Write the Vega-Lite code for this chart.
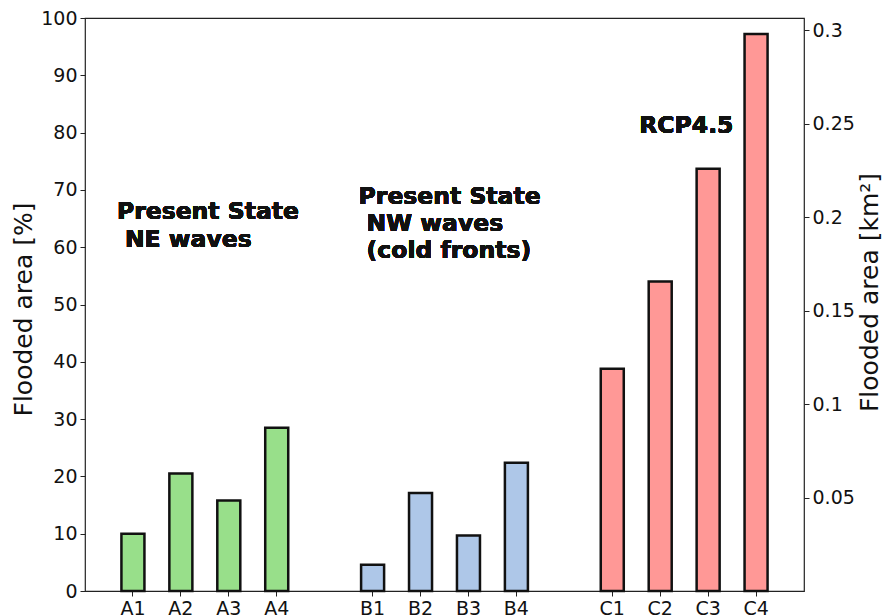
{
  "$schema": "https://vega.github.io/schema/vega-lite/v6.json",
  "width": 719,
  "height": 573,
  "autosize": "none",
  "padding": {"left": 85, "top": 18, "right": 78, "bottom": 25},
  "background": "white",
  "config": {
    "font": "DejaVu Sans",
    "view": {"stroke": "#222", "strokeWidth": 1.2},
    "axis": {"grid": false, "domainColor": "#222", "tickColor": "#222", "labelColor": "#111", "titleColor": "#111", "labelFont": "DejaVu Sans", "titleFont": "DejaVu Sans", "labelFontSize": 19, "titleFontSize": 25, "titleFontWeight": "normal", "tickSize": 5, "labelPadding": 3}
  },
  "data": {"values": [
    {"scenario": "A1", "group": "NE", "flooded": 10.0},
    {"scenario": "A2", "group": "NE", "flooded": 20.5},
    {"scenario": "A3", "group": "NE", "flooded": 15.8},
    {"scenario": "A4", "group": "NE", "flooded": 28.5},
    {"scenario": "B1", "group": "NW", "flooded": 4.6},
    {"scenario": "B2", "group": "NW", "flooded": 17.1},
    {"scenario": "B3", "group": "NW", "flooded": 9.7},
    {"scenario": "B4", "group": "NW", "flooded": 22.4},
    {"scenario": "C1", "group": "RCP", "flooded": 38.8},
    {"scenario": "C2", "group": "RCP", "flooded": 54.0},
    {"scenario": "C3", "group": "RCP", "flooded": 73.7},
    {"scenario": "C4", "group": "RCP", "flooded": 97.2}
  ]},
  "resolve": {"scale": {"y": "independent"}, "axis": {"y": "independent"}},
  "layer": [
    {
      "layer": [
        {
          "mark": {"type": "bar", "stroke": "#111", "strokeWidth": 2.5},
          "encoding": {
            "x": {
              "field": "scenario", "type": "nominal", "title": null,
              "scale": {"domain": ["A1","A2","A3","A4"," ","B1","B2","B3","B4","  ","C1","C2","C3","C4"], "paddingInner": 0.52, "paddingOuter": 0.76},
              "axis": {"values": ["A1","A2","A3","A4","B1","B2","B3","B4","C1","C2","C3","C4"], "labelAngle": 0, "domain": false}
            },
            "y": {
              "field": "flooded", "type": "quantitative",
              "scale": {"domain": [0, 100], "nice": false},
              "axis": {"title": "Flooded area [%]", "values": [0,10,20,30,40,50,60,70,80,90,100], "domain": false, "titleAngle": 270, "titleBaseline": "alphabetic", "titleX": -54, "titleY": 291}
            },
            "fill": {
              "field": "group", "type": "nominal", "legend": null,
              "scale": {"domain": ["NE","NW","RCP"], "range": ["#98df8a","#aec7e8","#ff9896"]}
            }
          }
        },
        {
          "mark": {"type": "text", "align": "left", "baseline": "alphabetic", "fontSize": 23.5, "fontWeight": "bold", "dx": -16, "fill": "#111"},
          "encoding": {
            "x": {"datum": "A1", "type": "nominal"},
            "y": {"datum": 65, "type": "quantitative"},
            "text": {"value": "Present State"}
          }
        },
        {
          "mark": {"type": "text", "align": "left", "baseline": "alphabetic", "fontSize": 23.5, "fontWeight": "bold", "dx": -8, "fill": "#111"},
          "encoding": {
            "x": {"datum": "A1", "type": "nominal"},
            "y": {"datum": 60.1, "type": "quantitative"},
            "text": {"value": "NE waves"}
          }
        },
        {
          "mark": {"type": "text", "align": "left", "baseline": "alphabetic", "fontSize": 23.5, "fontWeight": "bold", "dx": -14, "fill": "#111"},
          "encoding": {
            "x": {"datum": "B1", "type": "nominal"},
            "y": {"datum": 67.5, "type": "quantitative"},
            "text": {"value": "Present State"}
          }
        },
        {
          "mark": {"type": "text", "align": "left", "baseline": "alphabetic", "fontSize": 23.5, "fontWeight": "bold", "lineHeight": 27, "dx": -6, "fill": "#111"},
          "encoding": {
            "x": {"datum": "B1", "type": "nominal"},
            "y": {"datum": 62.8, "type": "quantitative"},
            "text": {"value": ["NW waves", "(cold fronts)"]}
          }
        },
        {
          "mark": {"type": "text", "align": "left", "baseline": "alphabetic", "fontSize": 23.5, "fontWeight": "bold", "dx": 27, "fill": "#111"},
          "encoding": {
            "x": {"datum": "C1", "type": "nominal"},
            "y": {"datum": 80, "type": "quantitative"},
            "text": {"value": "RCP4.5"}
          }
        }
      ]
    },
    {
      "mark": {"type": "rule", "strokeOpacity": 0},
      "encoding": {
        "y": {
          "datum": 0.1, "type": "quantitative",
          "scale": {"domain": [0, 0.3065], "nice": false, "zero": true},
          "axis": {"title": "Flooded area [km²]", "orient": "right", "values": [0.05, 0.1, 0.15, 0.2, 0.25, 0.3], "format": "~g", "domain": false, "titleAngle": 270, "titleBaseline": "alphabetic", "titleX": 73, "titleY": 274}
        }
      }
    }
  ]
}
